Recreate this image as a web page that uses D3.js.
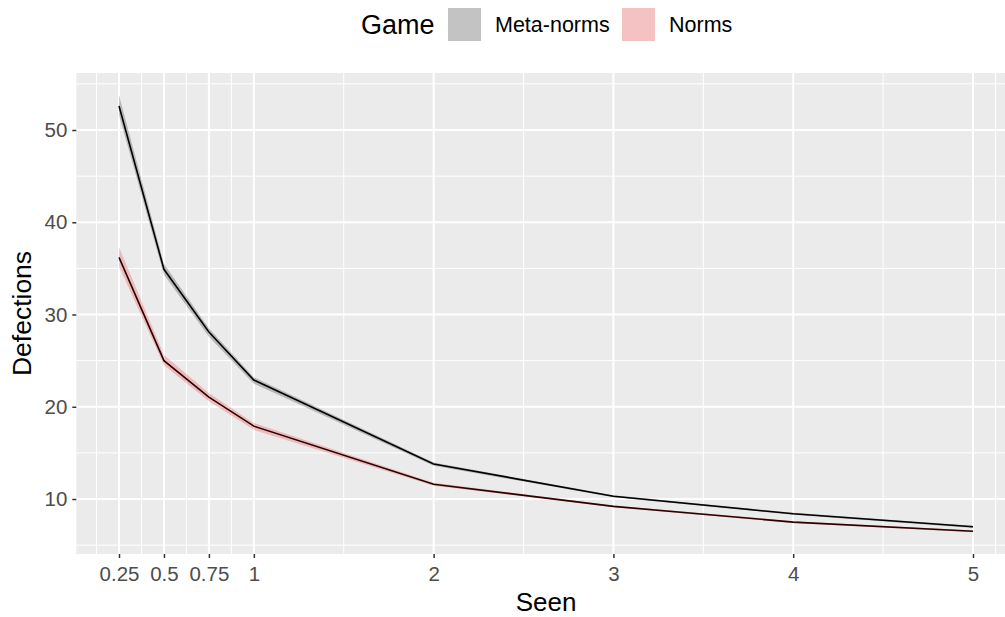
<!DOCTYPE html>
<html><head><meta charset="utf-8">
<script src="https://cdn.jsdelivr.net/npm/d3@7"></script>
<style>body{margin:0;background:#fff}svg{display:block;font-family:"Liberation Sans",Arial,Helvetica,sans-serif}</style>
</head><body><svg id="c" width="1005" height="617"></svg>
<script>
const seen = [0.25, 0.5, 0.75, 1, 2, 3, 4, 5];
const xTicks = [0.25, 0.5, 0.75, 1, 2, 3, 4, 5];
const xTickLabels = ["0.25", "0.5", "0.75", "1", "2", "3", "4", "5"];
const xMinor = [0.125, 0.375, 0.625, 0.875, 1.5, 2.5, 3.5, 4.5, 5.125];
const yTicks = [10, 20, 30, 40, 50];
const yMinor = [5, 15, 25, 35, 45, 55];
const games = ["Meta-norms", "Norms"];
const metaMean = [52.6, 34.9, 28.1, 22.9, 13.8, 10.3, 8.4, 7.0];
const metaLo   = [51.6, 34.3, 27.6, 22.5, 13.6, 10.2, 8.3, 6.85];
const metaHi   = [53.8, 35.5, 28.5, 23.2, 13.95, 10.4, 8.5, 7.1];
const normMean = [36.2, 25.0, 21.05, 17.9, 11.6, 9.2, 7.5, 6.5];
const normLo   = [35.2, 24.5, 20.6, 17.5, 11.45, 9.1, 7.4, 6.4];
const normHi   = [37.3, 25.6, 21.5, 18.25, 11.75, 9.3, 7.6, 6.6];

const fills = {"Meta-norms": "#c3c3c3", "Norms": "#f4c2c2"};
const ribbonFill = {"Meta-norms": "rgba(0,0,0,0.22)", "Norms": "rgba(240,40,40,0.25)"};
const lineCol = {"Meta-norms": "#000000", "Norms": "#2b0000"};

const svg = d3.select("#c");
const pl = 76.3, pr = 1015.7, pt = 73, pb = 554;
const x = d3.scaleLinear().domain([0.0125, 5.2375]).range([pl, pr]);
const y = d3.scaleLinear().domain([4.04, 56.18]).range([pb, pt]);

svg.append("rect").attr("x", pl).attr("y", pt).attr("width", pr - pl).attr("height", pb - pt).attr("fill", "#ebebeb");
const grid = svg.append("g");
grid.selectAll(".xm").data(xMinor).join("line").attr("x1", d => x(d)).attr("x2", d => x(d)).attr("y1", pt).attr("y2", pb).attr("stroke", "#fff").attr("stroke-width", 1);
grid.selectAll(".ym").data(yMinor).join("line").attr("y1", d => y(d)).attr("y2", d => y(d)).attr("x1", pl).attr("x2", pr).attr("stroke", "#fff").attr("stroke-width", 1);
grid.selectAll(".xM").data(xTicks).join("line").attr("x1", d => x(d)).attr("x2", d => x(d)).attr("y1", pt).attr("y2", pb).attr("stroke", "#fff").attr("stroke-width", 2);
grid.selectAll(".yM").data(yTicks).join("line").attr("y1", d => y(d)).attr("y2", d => y(d)).attr("x1", pl).attr("x2", pr).attr("stroke", "#fff").attr("stroke-width", 2);

const series = [
  {game: "Meta-norms", mean: metaMean, lo: metaLo, hi: metaHi},
  {game: "Norms", mean: normMean, lo: normLo, hi: normHi}
];
const area = d3.area().x(d => x(d.s)).y0(d => y(d.lo)).y1(d => y(d.hi));
const line = d3.line().x(d => x(d.s)).y(d => y(d.m));
series.forEach(s => {
  const pts = seen.map((v, i) => ({s: v, m: s.mean[i], lo: s.lo[i], hi: s.hi[i]}));
  svg.append("path").datum(pts).attr("d", area).attr("fill", ribbonFill[s.game]);
});
series.forEach(s => {
  const pts = seen.map((v, i) => ({s: v, m: s.mean[i]}));
  svg.append("path").datum(pts).attr("d", line).attr("fill", "none").attr("stroke", lineCol[s.game]).attr("stroke-width", 1.6);
});

// axes
const xAxis = d3.axisBottom(x).tickValues(xTicks).tickFormat((d, i) => xTickLabels[i]).tickSize(4).tickPadding(8);
const gx = svg.append("g").attr("transform", `translate(0,${pb})`).call(xAxis);
gx.select(".domain").remove();
gx.selectAll(".tick line").attr("stroke", "#333").attr("stroke-width", 1.5);
gx.selectAll(".tick text").attr("fill", "#4d4d4d").attr("font-size", 20.5).attr("font-family", "Liberation Sans, Arial, sans-serif");

const yAxis = d3.axisLeft(y).tickValues(yTicks).tickSize(4).tickPadding(5);
const gy = svg.append("g").attr("transform", `translate(${pl},0)`).call(yAxis);
gy.select(".domain").remove();
gy.selectAll(".tick line").attr("stroke", "#333").attr("stroke-width", 1.5);
gy.selectAll(".tick text").attr("fill", "#4d4d4d").attr("font-size", 20.5).attr("font-family", "Liberation Sans, Arial, sans-serif");

svg.append("text").attr("x", (pl + pr) / 2).attr("y", 611).attr("text-anchor", "middle").attr("font-size", 26).attr("fill", "#000").text("Seen");
svg.append("text").attr("transform", `translate(31,${(pt + pb) / 2}) rotate(-90)`).attr("text-anchor", "middle").attr("font-size", 26.5).attr("fill", "#000").text("Defections");

// legend
svg.append("text").attr("x", 361).attr("y", 34).attr("font-size", 27).attr("fill", "#000").text("Game");
const legX = [448, 622];
games.forEach((g, i) => {
  svg.append("rect").attr("x", legX[i]).attr("y", 8).attr("width", 33).attr("height", 33).attr("fill", fills[g]);
  svg.append("text").attr("x", legX[i] + 47).attr("y", 32).attr("font-size", 21.5).attr("fill", "#000").text(g);
});
</script></body></html>
